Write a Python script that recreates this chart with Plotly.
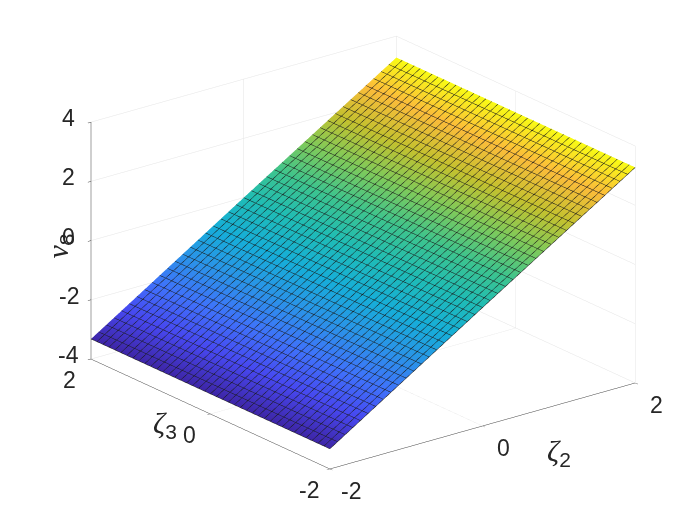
import numpy as np
import plotly.graph_objects as go

# grid, nu8 is nearly a plane rising with zeta2
zeta2 = [-2, -1, 0, 1, 2]
zeta3 = [-2, 0, 2]
nu8 = [[-3.32, -1.66, 0.0, 1.64, 3.28],
       [-3.32, -1.66, 0.0, 1.64, 3.28],
       [-3.32, -1.66, 0.0, 1.64, 3.28]]

xy_ticks = [-2, 0, 2]
z_ticks = [-4, -2, 0, 2, 4]

parula = [[0.0, '#3e26a8'], [0.1, '#4748f0'], [0.2, '#3f72fb'], [0.3, '#2a94e8'],
          [0.4, '#16aed9'], [0.5, '#1fbcb6'], [0.6, '#3cc48f'], [0.7, '#80ca5a'],
          [0.8, '#c4c12f'], [0.9, '#fbbc3a'], [1.0, '#f9fb15']]

surf = go.Surface(x=zeta2, y=zeta3, z=nu8,
                  colorscale=parula,
                  showscale=False,
                  lighting={'ambient': 1, 'diffuse': 0, 'specular': 0, 'fresnel': 0, 'roughness': 1},
                  contours={'x': {'show': True, 'start': -2, 'end': 2, 'size': 0.1, 'color': '#1a1a1a', 'width': 1},
                            'y': {'show': True, 'start': -2, 'end': 2, 'size': 0.1, 'color': '#1a1a1a', 'width': 1}})


def axis(rng, ticks):
    return {'range': rng, 'tickvals': ticks,
            'title': {'text': ''},
            'showticklabels': False,
            'showbackground': False,
            'showgrid': True, 'gridcolor': '#e4e4e4', 'gridwidth': 1,
            'zeroline': False,
            'showline': True, 'linecolor': '#404040', 'linewidth': 1,
            'ticks': 'outside', 'ticklen': 4, 'tickcolor': '#404040',
            'showspikes': False}


# tick labels sit at the axis positions in the scene, pushed out with pixel shifts
tick_font = {'family': 'Liberation Sans', 'size': 23, 'color': '#262626'}
labels = []
for t in z_ticks:
    labels.append({'x': -2, 'y': 2, 'z': t, 'text': str(t), 'xshift': -22, 'yshift': 4})
for t in xy_ticks:
    labels.append({'x': -2, 'y': t, 'z': -4, 'text': str(t), 'xshift': -21, 'yshift': -21})
for t in xy_ticks:
    labels.append({'x': t, 'y': -2, 'z': -4, 'text': str(t), 'xshift': 21, 'yshift': -22})
for a in labels:
    a.update(showarrow=False, font=tick_font)

greek = "font-family:'Liberation Serif';font-style:italic"
k = 1.477
layout = go.Layout(width=700, height=525,
                   margin={'l': 0, 'r': 0, 't': 0, 'b': 0},
                   paper_bgcolor='white',
                   showlegend=False,
                   scene={'xaxis': axis([-2, 2], xy_ticks),
                          'yaxis': axis([-2, 2], xy_ticks),
                          'zaxis': axis([-4, 4], z_ticks),
                          'aspectmode': 'manual',
                          'aspectratio': {'x': k, 'y': k, 'z': 0.655 * k},
                          'annotations': labels,
                          'camera': {'projection': {'type': 'orthographic'},
                                     'eye': {'x': -1.15 - 0.0154, 'y': -1.47 + 0.012, 'z': 0.72 - 0.0733},
                                     'center': {'x': -0.0154, 'y': 0.012, 'z': -0.0733},
                                     'up': {'x': 0, 'y': 0, 'z': 1}}},
                   annotations=[
                       {'text': f'<span style="{greek}">ζ</span><sub>2</sub>', 'x': 565, 'y': 465},
                       {'text': f'<span style="{greek}">ζ</span><sub>3</sub>', 'x': 143, 'y': 437},
                       {'text': f'<span style="{greek}">ν</span><sub>8</sub>', 'x': 30, 'y': 238, 'textangle': -90},
                   ])

fig = go.Figure(data=[surf], layout=layout)
for a in fig.layout.annotations:
    a.update(xref='paper', yref='paper', showarrow=False,
             x=a.x / 700, y=1 - a.y / 525,
             font={'family': 'Liberation Sans', 'size': 30, 'color': '#262626'})

fig.write_html("out.html")
